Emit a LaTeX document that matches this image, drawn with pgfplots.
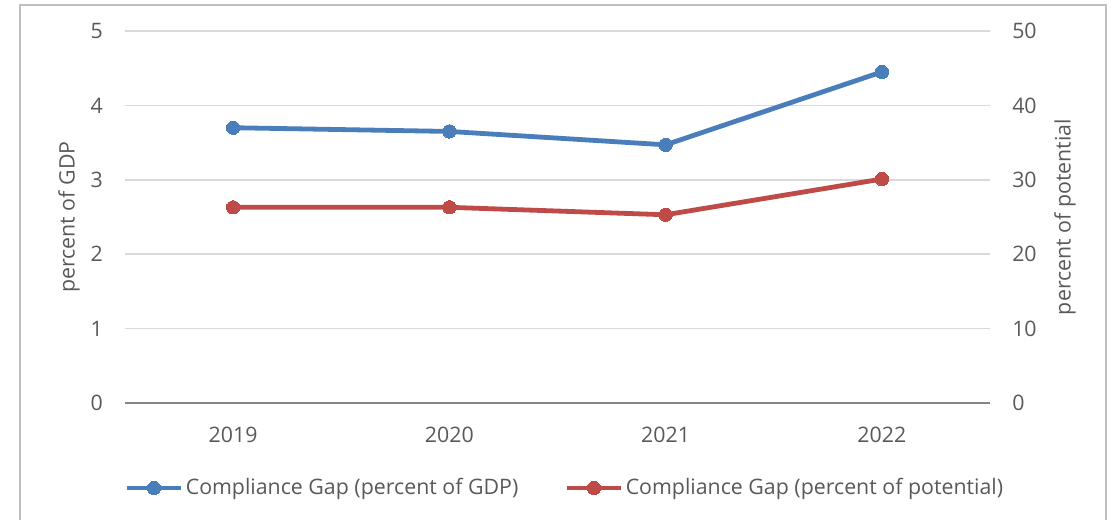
\documentclass[border=0pt]{standalone}
\usepackage{pgfplots}
\pgfplotsset{compat=1.18}
\usepackage{fontspec}
\setmainfont{Open Sans}
\definecolor{textgray}{HTML}{595959}
\definecolor{gridgray}{HTML}{D9D9D9}
\definecolor{axisgray}{HTML}{868686}
\definecolor{framegray}{HTML}{BFBFBF}
\definecolor{cblue}{HTML}{4A7EBB}
\definecolor{cred}{HTML}{BE4B48}
\newcommand{\chfont}{\fontsize{16}{19}\selectfont}
\begin{document}
\chfont
\begin{tikzpicture}
\useasboundingbox (0pt,0pt) rectangle (836.25pt,-390pt);
\draw[framegray, line width=1.5pt] (15pt,-3.75pt) rectangle (829.5pt,-410pt);
\pgfplotsset{
  common/.style={
    at={(93.75pt,-302.25pt)}, anchor=south west, scale only axis,
    width=648.75pt, height=279pt,
    xmin=-0.5, xmax=3.5, ymin=0,
    major tick length=0pt,
    tick label style={font=\chfont, text=textgray},
    /pgf/number format/assume math mode=true,
    clip=false,
  },
  bluestyle/.style={cblue, line width=3.6pt, mark=*, mark size=5pt, mark options={solid, fill=cblue, draw=cblue, line width=0pt}},
  redstyle/.style={cred, line width=3.6pt, mark=*, mark size=5pt, mark options={solid, fill=cred, draw=cred, line width=0pt}},
}
\begin{axis}[common,
  ymax=5, ytick={0,1,2,3,4,5},
  xtick={0,1,2,3}, xticklabels={2019,2020,2021,2022},
  axis x line*=bottom, axis y line*=left,
  x axis line style={-, draw=axisgray, line width=1.1pt},
  y axis line style={draw=none},
  ymajorgrids, grid style={gridgray, line width=1.2pt},
  yticklabel style={anchor=east, inner sep=0pt, xshift=-16.5pt},
  xticklabel style={anchor=north, inner sep=0pt, yshift=-18pt},
  ylabel={percent of GDP},
  every axis y label/.style={at={(axis description cs:-0.0647,0.5)}, rotate=90, anchor=center, font=\chfont, text=textgray},
  legend columns=2,
  legend style={at={(axis description cs:0,-0.2285)}, anchor=west, draw=none, fill=none, inner sep=0pt, outer sep=0pt,
    nodes={inner sep=2pt, text=textgray, font=\chfont},
    /tikz/every even column/.append style={column sep=33pt}},
  legend cell align=left,
  legend image code/.code={\draw[#1, mark repeat=2, mark phase=2] plot coordinates {(0pt,0pt) (20pt,0pt) (40pt,0pt)};},
]
\addplot[bluestyle] coordinates {(0,3.70) (1,3.65) (2,3.47) (3,4.45)};
\addlegendentry{Compliance Gap (percent of GDP)}
\addlegendimage{redstyle}
\addlegendentry{Compliance Gap (percent of potential)}
\end{axis}
\begin{axis}[common,
  ymax=50, ytick={0,10,20,30,40,50},
  hide x axis,
  axis y line*=right,
  y axis line style={draw=none},
  yticklabel style={anchor=west, inner sep=0pt, xshift=16.5pt},
  ylabel={percent of potential},
  every axis y label/.style={at={(axis description cs:1.0867,0.5)}, rotate=90, anchor=center, font=\chfont, text=textgray},
]
\addplot[redstyle] coordinates {(0,26.3) (1,26.3) (2,25.3) (3,30.1)};
\end{axis}
\end{tikzpicture}
\end{document}
